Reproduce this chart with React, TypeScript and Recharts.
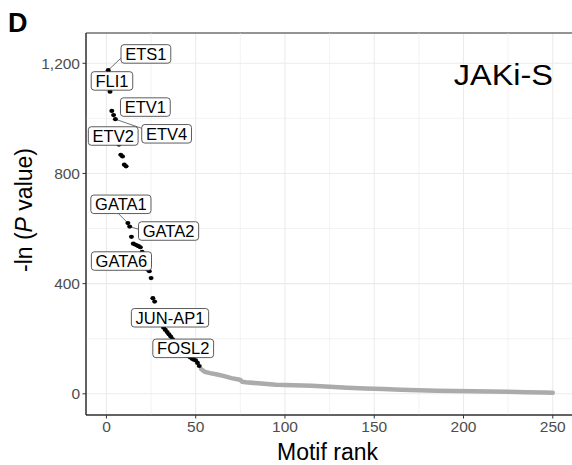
import React from 'react';
import {
  ComposedChart,
  Scatter,
  XAxis,
  YAxis,
  CartesianGrid,
  ReferenceLine,
  ReferenceDot,
  ReferenceArea,
} from 'recharts';

// ---- data ----
const topRanks = [
  1, 2, 3, 4, 5, 6, 7, 8, 9, 10, 11, 12, 13, 14, 15, 16, 17, 18, 19, 20, 21, 22, 23, 24, 25, 26,
  27, 28, 29, 30, 31, 32, 33, 34, 35, 36, 37, 38, 39, 40, 41, 42, 43, 44, 45, 46, 47, 48, 49, 50,
  51, 52,
];
const topValues = [
  1175, 1097, 1027, 1012, 997, 955, 905, 868, 862, 832, 826, 620, 607, 570, 545, 542, 539, 536,
  532, 515, 495, 470, 452, 445, 420, 347, 335, 300, 285, 268, 250, 240, 232, 224, 216, 208, 199,
  190, 182, 175, 168, 161, 154, 148, 142, 137, 132, 127, 124, 121, 112, 101,
];
const tailRanks = [
  53, 55, 58, 62, 66, 70, 74, 75, 76, 78, 85, 95, 105, 115, 125, 135, 145, 155, 165, 175, 185,
  195, 205, 215, 225, 235, 245, 250,
];
const tailValues = [
  90, 80, 75, 70, 64, 57, 52, 50, 44, 42, 38, 33, 31, 29, 26, 22, 19, 17, 15, 13, 11, 10, 9, 8,
  7, 6, 5, 4,
];

const xTicks = [0, 50, 100, 150, 200, 250];
const yTicks = [0, 400, 800, 1200];
const xMinor = [25, 75, 125, 175, 225];
const yMinor = [200, 600, 1000];

const labelNames = ['ETS1', 'FLI1', 'ETV1', 'ETV2', 'ETV4', 'GATA1', 'GATA2', 'GATA6', 'JUN-AP1', 'FOSL2'];
const labelRanks = [22.1, 3.1, 21.8, 3.8, 33.7, 8.1, 34.8, 8.4, 35.6, 43.0];
const labelValues = [1234, 1136, 1041, 936, 944, 688, 591, 482, 276, 165];

const linkFromRank = [1, 5, 12, 13];
const linkFromValue = [1175, 997, 620, 607];
const linkToRank = [8, 19.7, 6.6, 18.8];
const linkToValue = [1218, 964, 655, 596];

const xDomain = [-11.45, 262.45];
const yDomain = [-77, 1310];

// ---- styles ----
const FONT = '"Liberation Sans", Arial, Helvetica, sans-serif';
const LABEL_FS = 16.5;
const TICK_FS = 15.5;

const topData = topRanks.map((r, i) => ({ x: r, y: topValues[i] }));
const tailData = tailRanks.map((r, i) => ({ x: r, y: tailValues[i] }));

let ctx: CanvasRenderingContext2D | null = null;
function textWidth(t: string, font: string): number {
  if (!ctx) ctx = document.createElement('canvas').getContext('2d');
  if (!ctx) return t.length * LABEL_FS * 0.6;
  ctx.font = font;
  return ctx.measureText(t).width;
}

function LabelBox(props: any) {
  const { cx, cy, name } = props;
  if (cx == null || cy == null) return null;
  const w = textWidth(name, `${LABEL_FS}px "Liberation Sans"`) + 8.5;
  const h = 18.5;
  return (
    <g>
      <rect
        x={cx - w / 2}
        y={cy - h / 2}
        width={w}
        height={h}
        rx={3}
        ry={3}
        fill="#fff"
        stroke="#333"
        strokeWidth={0.8}
      />
      <text
        x={cx}
        y={cy + LABEL_FS * 0.36}
        textAnchor="middle"
        fontSize={LABEL_FS}
        fontFamily={FONT}
        fill="#000"
      >
        {name}
      </text>
    </g>
  );
}

const Dot = (props: any) => {
  const { cx, cy } = props;
  if (cx == null || cy == null) return null;
  return <ellipse cx={cx} cy={cy} rx={2.5} ry={2.1} fill="#000" />;
};

const NoDot = () => <g />;

export default function App() {
  return (
    <div
      style={{
        position: 'absolute',
        left: 0,
        top: 0,
        width: 572,
        height: 465,
        overflow: 'hidden',
        background: '#fff',
        fontFamily: FONT,
      }}
    >
      <div
        style={{
          position: 'absolute',
          left: 8,
          top: 8,
          fontSize: 27,
          fontWeight: 'bold',
          fontFamily: FONT,
          lineHeight: '30px',
          color: '#000',
        }}
      >
        D
      </div>
      <ComposedChart
        width={576}
        height={465}
        margin={{ top: 33, right: 1, bottom: 0, left: 0 }}
        style={{ position: 'absolute', left: 0, top: 0 }}
      >
        <CartesianGrid stroke="#EBEBEB" strokeWidth={1.1} />
        {xMinor.map((v) => (
          <ReferenceLine key={'xm' + v} x={v} stroke="#EBEBEB" strokeWidth={0.6} />
        ))}
        {yMinor.map((v) => (
          <ReferenceLine key={'ym' + v} y={v} stroke="#EBEBEB" strokeWidth={0.6} />
        ))}
        <XAxis
          dataKey="x"
          type="number"
          domain={xDomain}
          ticks={xTicks}
          allowDataOverflow
          height={50}
          tickSize={3.5}
          tickMargin={2}
          tick={{ fill: '#4D4D4D', fontSize: TICK_FS, fontFamily: FONT }}
          tickLine={{ stroke: '#333' }}
          axisLine={{ stroke: '#333' }}
          label={(p: any) => {
            const vb = p.viewBox || {};
            return (
              <text
                x={(vb.x ?? 86) + (vb.width ?? 489) / 2 - 3}
                y={460}
                textAnchor="middle"
                fontSize={23}
                fontFamily={FONT}
                fill="#000"
              >
                Motif rank
              </text>
            );
          }}
        />
        <YAxis
          dataKey="y"
          type="number"
          domain={yDomain}
          ticks={yTicks}
          allowDataOverflow
          width={86}
          tickSize={3.5}
          tickMargin={2.5}
          tickFormatter={(v: number) => v.toLocaleString('en-US')}
          tick={{ fill: '#4D4D4D', fontSize: TICK_FS, fontFamily: FONT }}
          tickLine={{ stroke: '#333' }}
          axisLine={{ stroke: '#333' }}
          label={() => (
            <text
              transform="translate(32,210) rotate(-90)"
              textAnchor="middle"
              fontSize={23}
              fontFamily={FONT}
              fill="#000"
            >
              -ln (<tspan fontStyle="italic">P</tspan> value)
            </text>
          )}
        />
        <Scatter
          data={tailData}
          isAnimationActive={false}
          shape={NoDot}
          line={{ stroke: '#ABABAB', strokeWidth: 4.5, strokeLinecap: 'round', strokeLinejoin: 'round' }}
          lineType="joint"
        />
        <Scatter data={topData} isAnimationActive={false} shape={Dot} />
        {linkFromRank.map((r, i) => (
          <ReferenceLine
            key={'lk' + i}
            segment={[
              { x: r, y: linkFromValue[i] },
              { x: linkToRank[i], y: linkToValue[i] },
            ]}
            stroke="#333"
            strokeWidth={0.7}
          />
        ))}
        {labelNames.map((n, i) => (
          <ReferenceDot
            key={'lb' + n}
            x={labelRanks[i]}
            y={labelValues[i]}
            r={1}
            shape={(p: any) => <LabelBox {...p} name={n} />}
          />
        ))}
        <ReferenceArea
          x1={xDomain[0]}
          x2={xDomain[1]}
          y1={yDomain[0]}
          y2={yDomain[1]}
          fill="none"
          stroke="#333"
          strokeWidth={1}
          ifOverflow="visible"
        />
        <ReferenceDot
          x={xDomain[1]}
          y={yDomain[1]}
          r={1}
          shape={() => (
            <text
              transform="translate(553,85) scale(1.1,1)"
              textAnchor="end"
              fontSize={29.5}
              fontFamily={FONT}
              fill="#000"
            >
              JAKi-S
            </text>
          )}
        />
      </ComposedChart>
    </div>
  );
}
